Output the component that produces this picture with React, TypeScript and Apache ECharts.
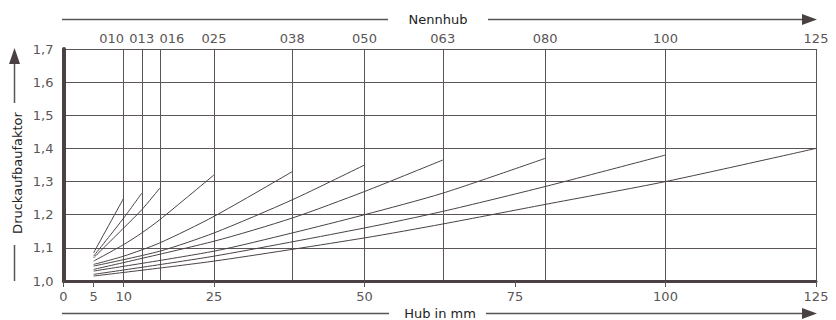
import React, { useEffect, useRef } from "react";
import * as echarts from "echarts";

// Nennhub (nominal stroke) values and their labels
const strokes = [10, 13, 16, 25, 38, 50, 63, 80, 100, 125];
const nennhubLabels = ["010", "013", "016", "025", "038", "050", "063", "080", "100", "125"];
// bottom axis ticks (Hub in mm)
const hubTicks = [0, 5, 10, 25, 50, 75, 100, 125];

// Druckaufbaufaktor curves, [Hub in mm, factor]
const curve010 = [[5, 1.085], [10, 1.25]];
const curve013 = [[5, 1.075], [10, 1.19], [13, 1.265]];
const curve016 = [[5, 1.07], [10, 1.16], [13, 1.215], [16, 1.28]];
const curve025 = [[5, 1.06], [10, 1.11], [13, 1.145], [16, 1.185], [25, 1.32]];
const curve038 = [[5, 1.05], [10, 1.075], [16, 1.115], [25, 1.195], [38, 1.33]];
const curve050 = [[5, 1.045], [16, 1.09], [25, 1.145], [38, 1.245], [50, 1.35]];
const curve063 = [[5, 1.035], [25, 1.12], [38, 1.19], [50, 1.27], [63, 1.365]];
const curve080 = [[5, 1.03], [25, 1.09], [38, 1.145], [50, 1.2], [63, 1.265], [80, 1.37]];
const curve100 = [[5, 1.02], [25, 1.075], [50, 1.16], [63, 1.21], [80, 1.285], [100, 1.38]];
const curve125 = [[5, 1.015], [25, 1.06], [50, 1.13], [63, 1.172], [80, 1.231], [100, 1.3], [125, 1.4]];

const curves = [curve010, curve013, curve016, curve025, curve038, curve050, curve063, curve080, curve100, curve125];

const FONT = '"DejaVu Sans", sans-serif';
const GRID = "#5a5454";
const DARK = "#4a4242";
const LABEL = "#5a5656";

const labelText = { color: LABEL, fontSize: 13, fontFamily: FONT };

export default function App() {
  const ref = useRef<HTMLDivElement>(null);
  useEffect(() => {
    if (!ref.current) return;
    const chart = echarts.init(ref.current, undefined, { renderer: "svg" });
    chart.setOption({
      animation: false,
      backgroundColor: "#ffffff",
      grid: { left: 63.5, right: 20, top: 49, bottom: 39, containLabel: false },
      xAxis: [
        {
          type: "value",
          position: "bottom",
          min: 0,
          max: 125,
          axisLine: { show: true, onZero: false, lineStyle: { color: DARK, width: 3 } },
          axisTick: { show: true, customValues: hubTicks, length: 6, lineStyle: { color: GRID, width: 1 } },
          axisLabel: { customValues: hubTicks, margin: 9, hideOverlap: false, ...labelText },
          splitLine: { show: false },
        },
        {
          type: "value",
          position: "top",
          min: 0,
          max: 125,
          axisLine: { show: false },
          axisTick: { show: false, customValues: strokes },
          axisLabel: {
            customValues: strokes,
            margin: 4,
            hideOverlap: false,
            ...labelText,
            formatter: (v: number) => {
              const i = strokes.indexOf(v);
              if (i < 0) return "";
              const key = v === 10 ? "l" : v === 16 ? "r" : "c";
              return `{${key}|${nennhubLabels[i]}}`;
            },
            rich: {
              l: { ...labelText, padding: [0, 24, 0, 0] },
              c: { ...labelText },
              r: { ...labelText, padding: [0, 0, 0, 24] },
            },
          },
          splitLine: { show: true, lineStyle: { color: GRID, width: 1 } },
        },
      ],
      yAxis: {
        type: "value",
        min: 1.0,
        max: 1.7,
        interval: 0.1,
        axisLine: { show: true, lineStyle: { color: DARK, width: 4 } },
        axisTick: { show: false },
        axisLabel: {
          margin: 10,
          ...labelText,
          formatter: (v: number) => v.toFixed(1).replace(".", ","),
        },
        splitLine: { show: true, lineStyle: { color: GRID, width: 1 } },
      },
      series: curves.map((c, i) => ({
        type: "line",
        name: nennhubLabels[i],
        xAxisIndex: 0,
        data: c,
        showSymbol: false,
        smooth: 0.25,
        lineStyle: { color: DARK, width: 1 },
        z: 3,
      })),
      graphic: [
        { type: "line", shape: { x1: 62, y1: 19.5, x2: 388, y2: 19.5 }, style: { stroke: GRID, lineWidth: 1.5 } },
        {
          type: "text",
          x: 438,
          y: 19.5,
          style: { text: "Nennhub", font: `13px ${FONT}`, fill: "#222", align: "center", verticalAlign: "middle" },
        },
        { type: "line", shape: { x1: 488, y1: 19.5, x2: 804, y2: 19.5 }, style: { stroke: GRID, lineWidth: 1.5 } },
        { type: "polygon", shape: { points: [[802, 14], [817, 19.5], [802, 25]] }, style: { fill: DARK } },

        { type: "line", shape: { x1: 62, y1: 313.5, x2: 389, y2: 313.5 }, style: { stroke: GRID, lineWidth: 1.5 } },
        {
          type: "text",
          x: 440,
          y: 313.5,
          style: { text: "Hub in mm", font: `13px ${FONT}`, fill: "#222", align: "center", verticalAlign: "middle" },
        },
        { type: "line", shape: { x1: 486, y1: 313.5, x2: 804, y2: 313.5 }, style: { stroke: GRID, lineWidth: 1.5 } },
        { type: "polygon", shape: { points: [[802, 308], [817, 313.5], [802, 319]] }, style: { fill: DARK } },

        { type: "line", shape: { x1: 14.5, y1: 245, x2: 14.5, y2: 281 }, style: { stroke: GRID, lineWidth: 1.5 } },
        {
          type: "text",
          x: 17,
          y: 173,
          rotation: Math.PI / 2,
          style: { text: "Druckaufbaufaktor", font: `13px ${FONT}`, fill: "#222", align: "center", verticalAlign: "middle" },
        },
        { type: "line", shape: { x1: 14.5, y1: 103, x2: 14.5, y2: 62 }, style: { stroke: GRID, lineWidth: 1.5 } },
        { type: "polygon", shape: { points: [[9, 64], [14.5, 48], [20, 64]] }, style: { fill: DARK } },
      ],
    });
    return () => chart.dispose();
  }, []);
  return <div ref={ref} style={{ position: "fixed", left: 0, top: 0, width: 836, height: 320 }} />;
}
